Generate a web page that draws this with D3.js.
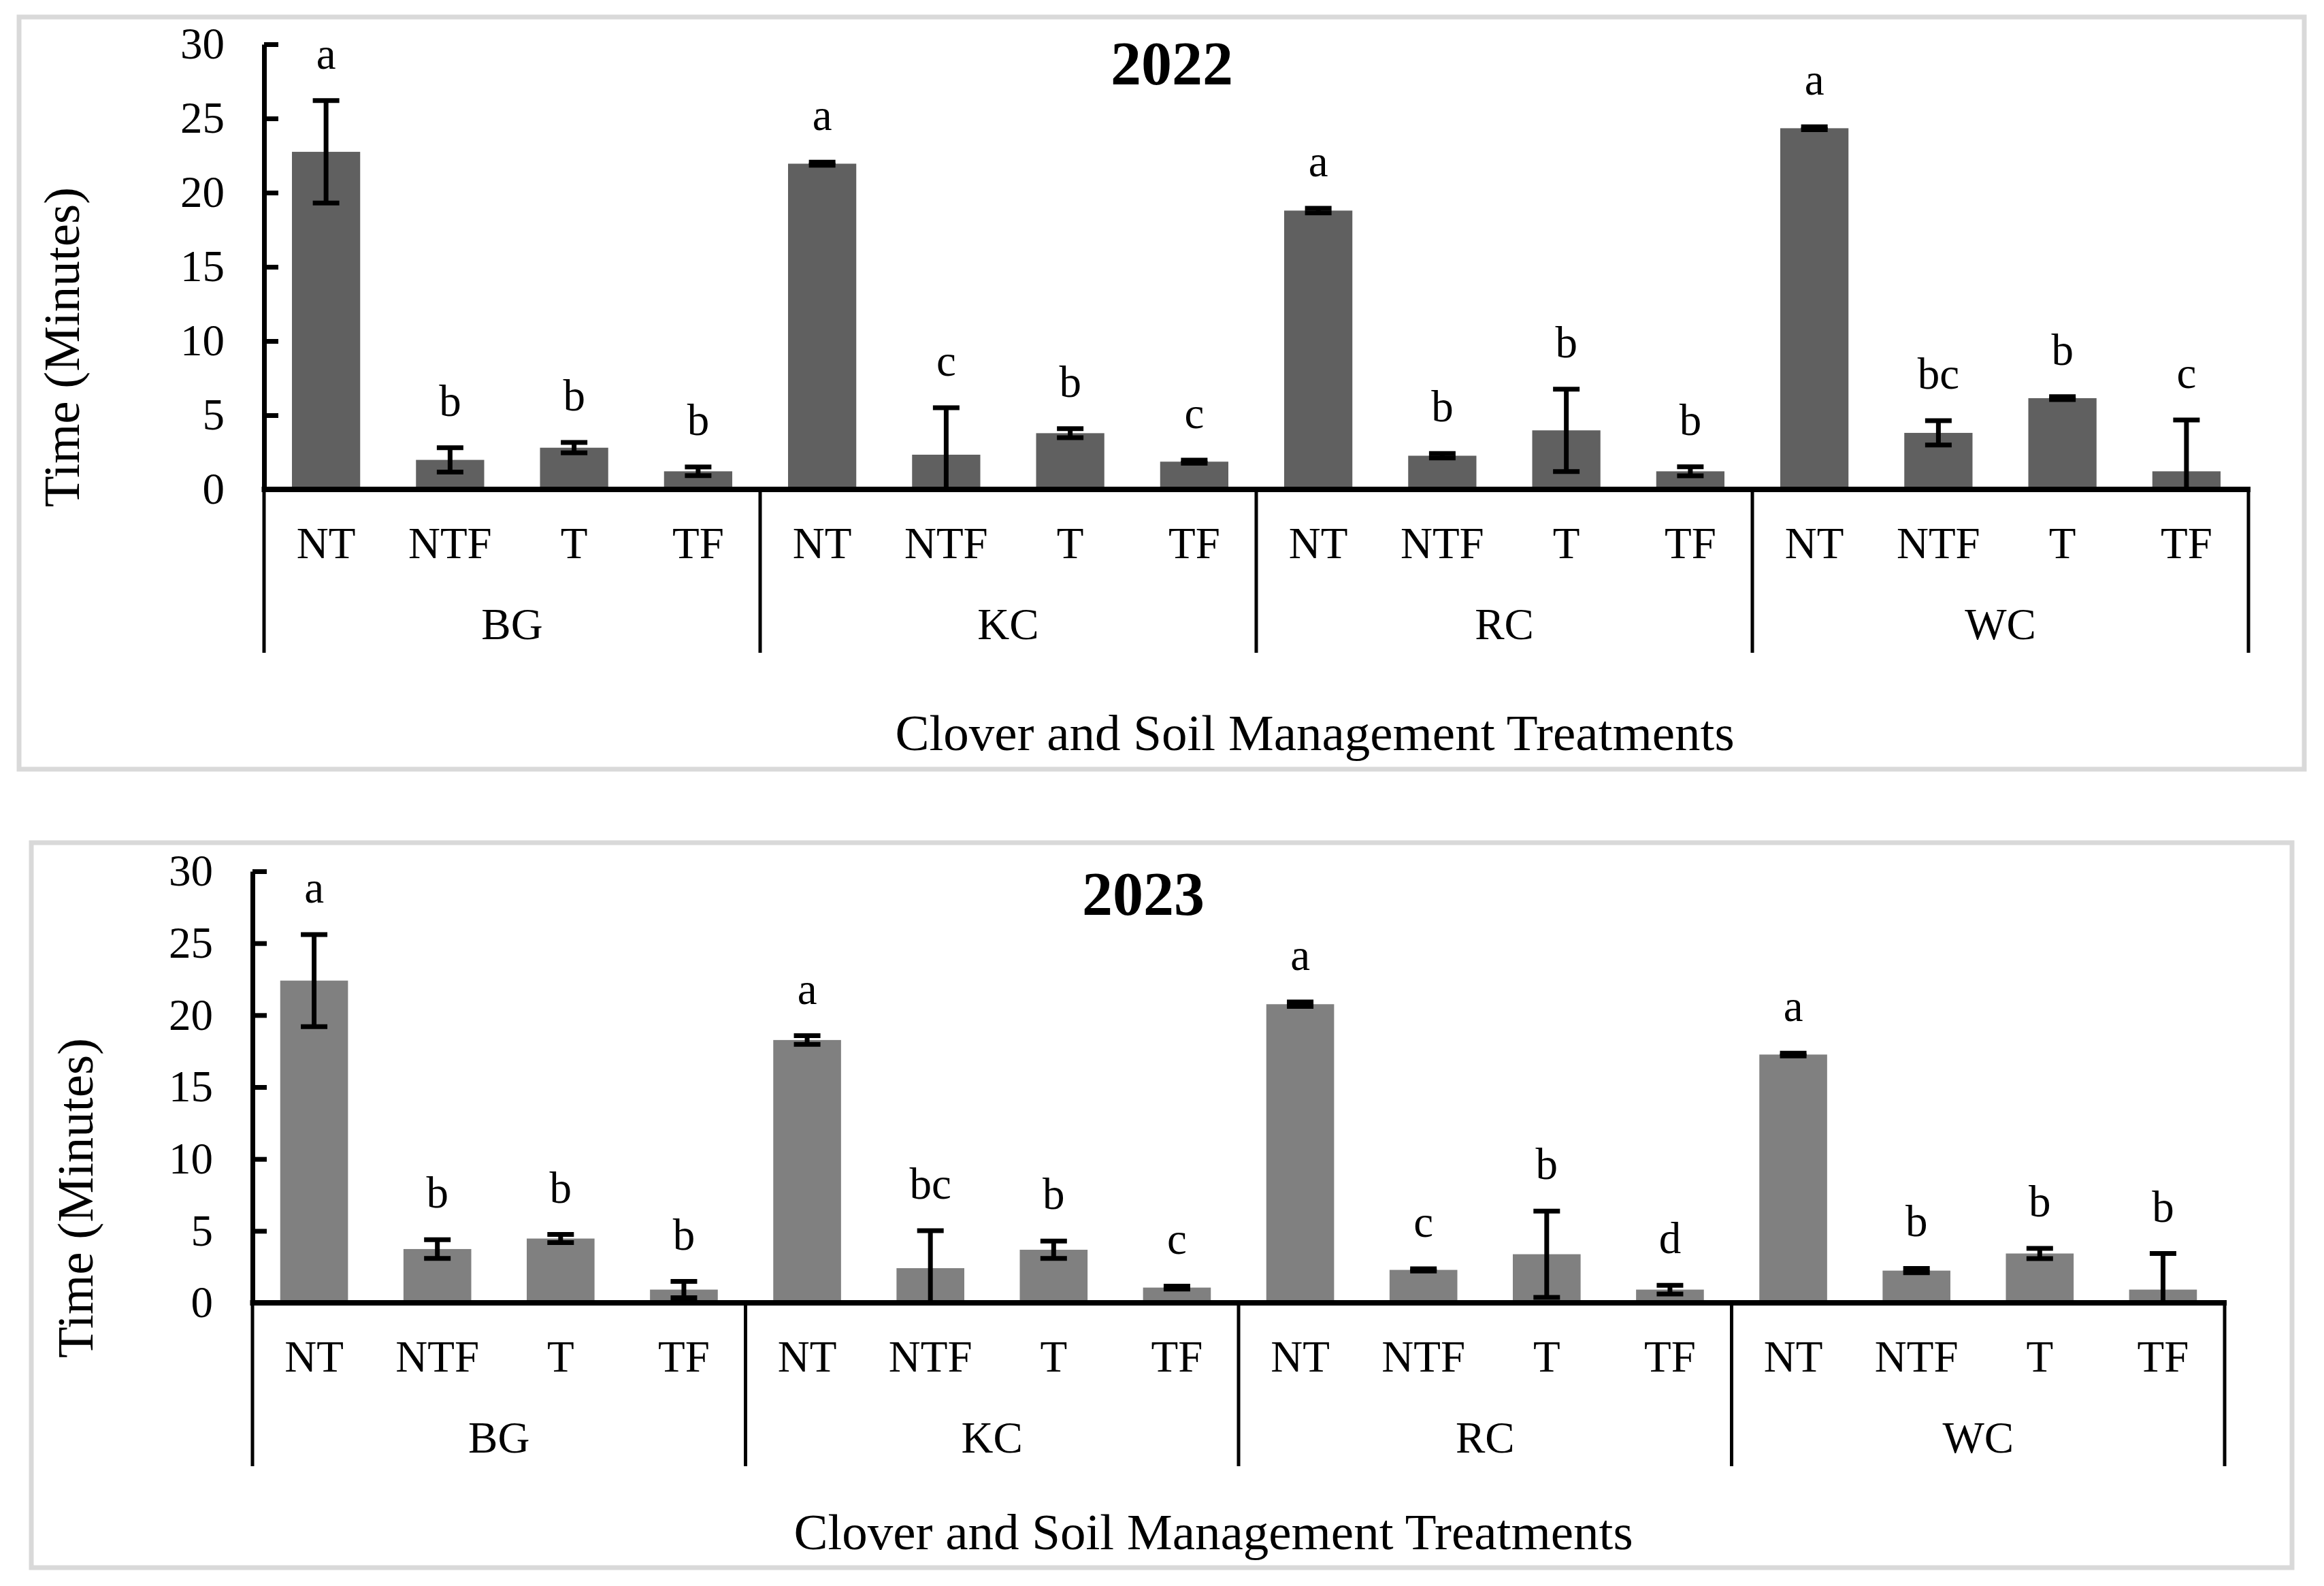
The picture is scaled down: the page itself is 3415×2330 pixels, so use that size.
<!DOCTYPE html>
<html><head><meta charset="utf-8">
<script src="https://cdn.jsdelivr.net/npm/d3@7"></script>
<style>html,body{margin:0;padding:0;background:#fff}svg{display:block}text{font-family:"Liberation Serif","Times New Roman",serif;fill:#000}</style>
</head><body>
<svg id="chart" width="3415" height="2330"></svg>
<script>
const groups = ["BG","KC","RC","WC"];
const treatments = ["NT","NTF","T","TF"];
const yTicks = [0,5,10,15,20,25,30];
const years = ["2022","2023"];

const means2022  = [22.75,1.99,2.81,1.22, 21.95,2.34,3.79,1.87, 18.79,2.27,3.98,1.22, 24.34,3.81,6.15,1.22];
const errors2022 = [3.45,0.82,0.35,0.29, 0.1,3.16,0.3,0.1, 0.15,0.15,2.78,0.3, 0.1,0.82,0.1,3.46];
const letters2022 = ["a","b","b","b", "a","c","b","c", "a","b","b","b", "a","bc","b","c"];

const means2023  = [22.4,3.74,4.47,0.92, 18.27,2.41,3.69,1.06, 20.76,2.29,3.38,0.92, 17.26,2.24,3.43,0.92];
const errors2023 = [3.2,0.65,0.28,0.57, 0.3,2.61,0.6,0.1, 0.15,0.08,3.0,0.3, 0.1,0.15,0.36,2.51];
const letters2023 = ["a","b","b","b", "a","bc","b","c", "a","c","b","d", "a","b","b","b"];

const xTitle = "Clover and Soil Management Treatments";
const yTitle = "Time (Minutes)";

const panels = [
  {year: years[0], means: means2022, errors: errors2022, letters: letters2022, color:"#606060",
   box:{x:28,y:25,w:3358,h:1105}, x0:388, x1:3304, y0:719, y1:65,
   titleX:1722, titleY:124, yTitleX:116, yTitleY:510, xTitleX:1932, xTitleY:1102},
  {year: years[1], means: means2023, errors: errors2023, letters: letters2023, color:"#808080",
   box:{x:46,y:1238,w:3322,h:1065}, x0:371, x1:3269, y0:1914, y1:1280,
   titleX:1680, titleY:1344, yTitleX:136, yTitleY:1760, xTitleX:1783, xTitleY:2276}
];

const svg = d3.select("#chart");
svg.append("rect").attr("width",3415).attr("height",2330).attr("fill","#fff");

panels.forEach(p => {
  const g = svg.append("g");
  g.append("rect").attr("x",p.box.x).attr("y",p.box.y).attr("width",p.box.w).attr("height",p.box.h)
    .attr("fill","#fff").attr("stroke","#d9d9d9").attr("stroke-width",7);

  const rows = [];
  groups.forEach((gr,gi) => treatments.forEach((t,ti) => {
    const i = gi*treatments.length+ti;
    rows.push({key:gr+"-"+t, group:gr, treat:t, mean:p.means[i], err:p.errors[i], letter:p.letters[i]});
  }));

  const x = d3.scaleBand().domain(rows.map(d=>d.key)).range([p.x0,p.x1]).paddingInner(0.45).paddingOuter(0.225);
  const xg = d3.scaleBand().domain(groups).range([p.x0,p.x1]).padding(0);
  const y = d3.scaleLinear().domain([0,30]).range([p.y0,p.y1]);

  // bars
  g.selectAll(".bar").data(rows).join("rect")
    .attr("x",d=>x(d.key)).attr("width",x.bandwidth())
    .attr("y",d=>y(d.mean)).attr("height",d=>y(0)-y(d.mean))
    .attr("fill",p.color);

  // error bars
  const capW = 39, ew = 7;
  const cx = d => x(d.key)+x.bandwidth()/2;
  const eb = g.selectAll(".eb").data(rows).join("g");
  eb.append("line")
    .attr("x1",cx).attr("x2",cx)
    .attr("y1",d=>y(d.mean+d.err)).attr("y2",d=>y(Math.max(0,d.mean-d.err)))
    .attr("stroke","#000").attr("stroke-width",ew);
  eb.append("line")
    .attr("x1",d=>cx(d)-capW/2).attr("x2",d=>cx(d)+capW/2)
    .attr("y1",d=>y(d.mean+d.err)).attr("y2",d=>y(d.mean+d.err))
    .attr("stroke","#000").attr("stroke-width",ew);
  eb.filter(d=>d.mean-d.err>0).append("line")
    .attr("x1",d=>cx(d)-capW/2).attr("x2",d=>cx(d)+capW/2)
    .attr("y1",d=>y(d.mean-d.err)).attr("y2",d=>y(d.mean-d.err))
    .attr("stroke","#000").attr("stroke-width",ew);

  // significance letters
  g.selectAll(".lt").data(rows).join("text")
    .attr("x",cx).attr("y",d=>y(d.mean+d.err)-47)
    .attr("text-anchor","middle").attr("font-size",65).text(d=>d.letter);

  // y axis
  const ya = g.append("g").attr("transform",`translate(${p.x0},0)`)
    .call(d3.axisLeft(y).tickValues(yTicks).tickSizeInner(-21).tickSizeOuter(0).tickPadding(58));
  ya.select(".domain").attr("stroke","#000").attr("stroke-width",7);
  ya.selectAll(".tick line").attr("stroke","#000").attr("stroke-width",7);
  ya.selectAll(".tick text").attr("font-size",65).attr("font-family","Liberation Serif").attr("fill","#000");

  // x axis line
  g.append("line").attr("x1",p.x0-3.5).attr("x2",p.x1+3).attr("y1",p.y0).attr("y2",p.y0)
    .attr("stroke","#000").attr("stroke-width",8);

  // group separators
  const seps = groups.map(gr=>xg(gr)).concat([p.x1]);
  g.selectAll(".sep").data(seps).join("line")
    .attr("x1",d=>d).attr("x2",d=>d).attr("y1",p.y0).attr("y2",p.y0+240)
    .attr("stroke","#000").attr("stroke-width",5);

  // treatment labels
  g.selectAll(".tl").data(rows).join("text")
    .attr("x",cx).attr("y",p.y0+101)
    .attr("text-anchor","middle").attr("font-size",65).text(d=>d.treat);

  // group labels
  g.selectAll(".gl").data(groups).join("text")
    .attr("x",d=>xg(d)+xg.bandwidth()/2).attr("y",p.y0+220)
    .attr("text-anchor","middle").attr("font-size",65).text(d=>d);

  // titles
  g.append("text").attr("x",p.titleX).attr("y",p.titleY).attr("text-anchor","middle")
    .attr("font-size",90).attr("font-weight","bold").text(p.year);
  g.append("text").attr("transform",`translate(${p.yTitleX},${p.yTitleY}) rotate(-90)`)
    .attr("text-anchor","middle").attr("font-size",75).text(yTitle);
  g.append("text").attr("x",p.xTitleX).attr("y",p.xTitleY).attr("text-anchor","middle")
    .attr("font-size",75).text(xTitle);
});
</script>
</body></html>
